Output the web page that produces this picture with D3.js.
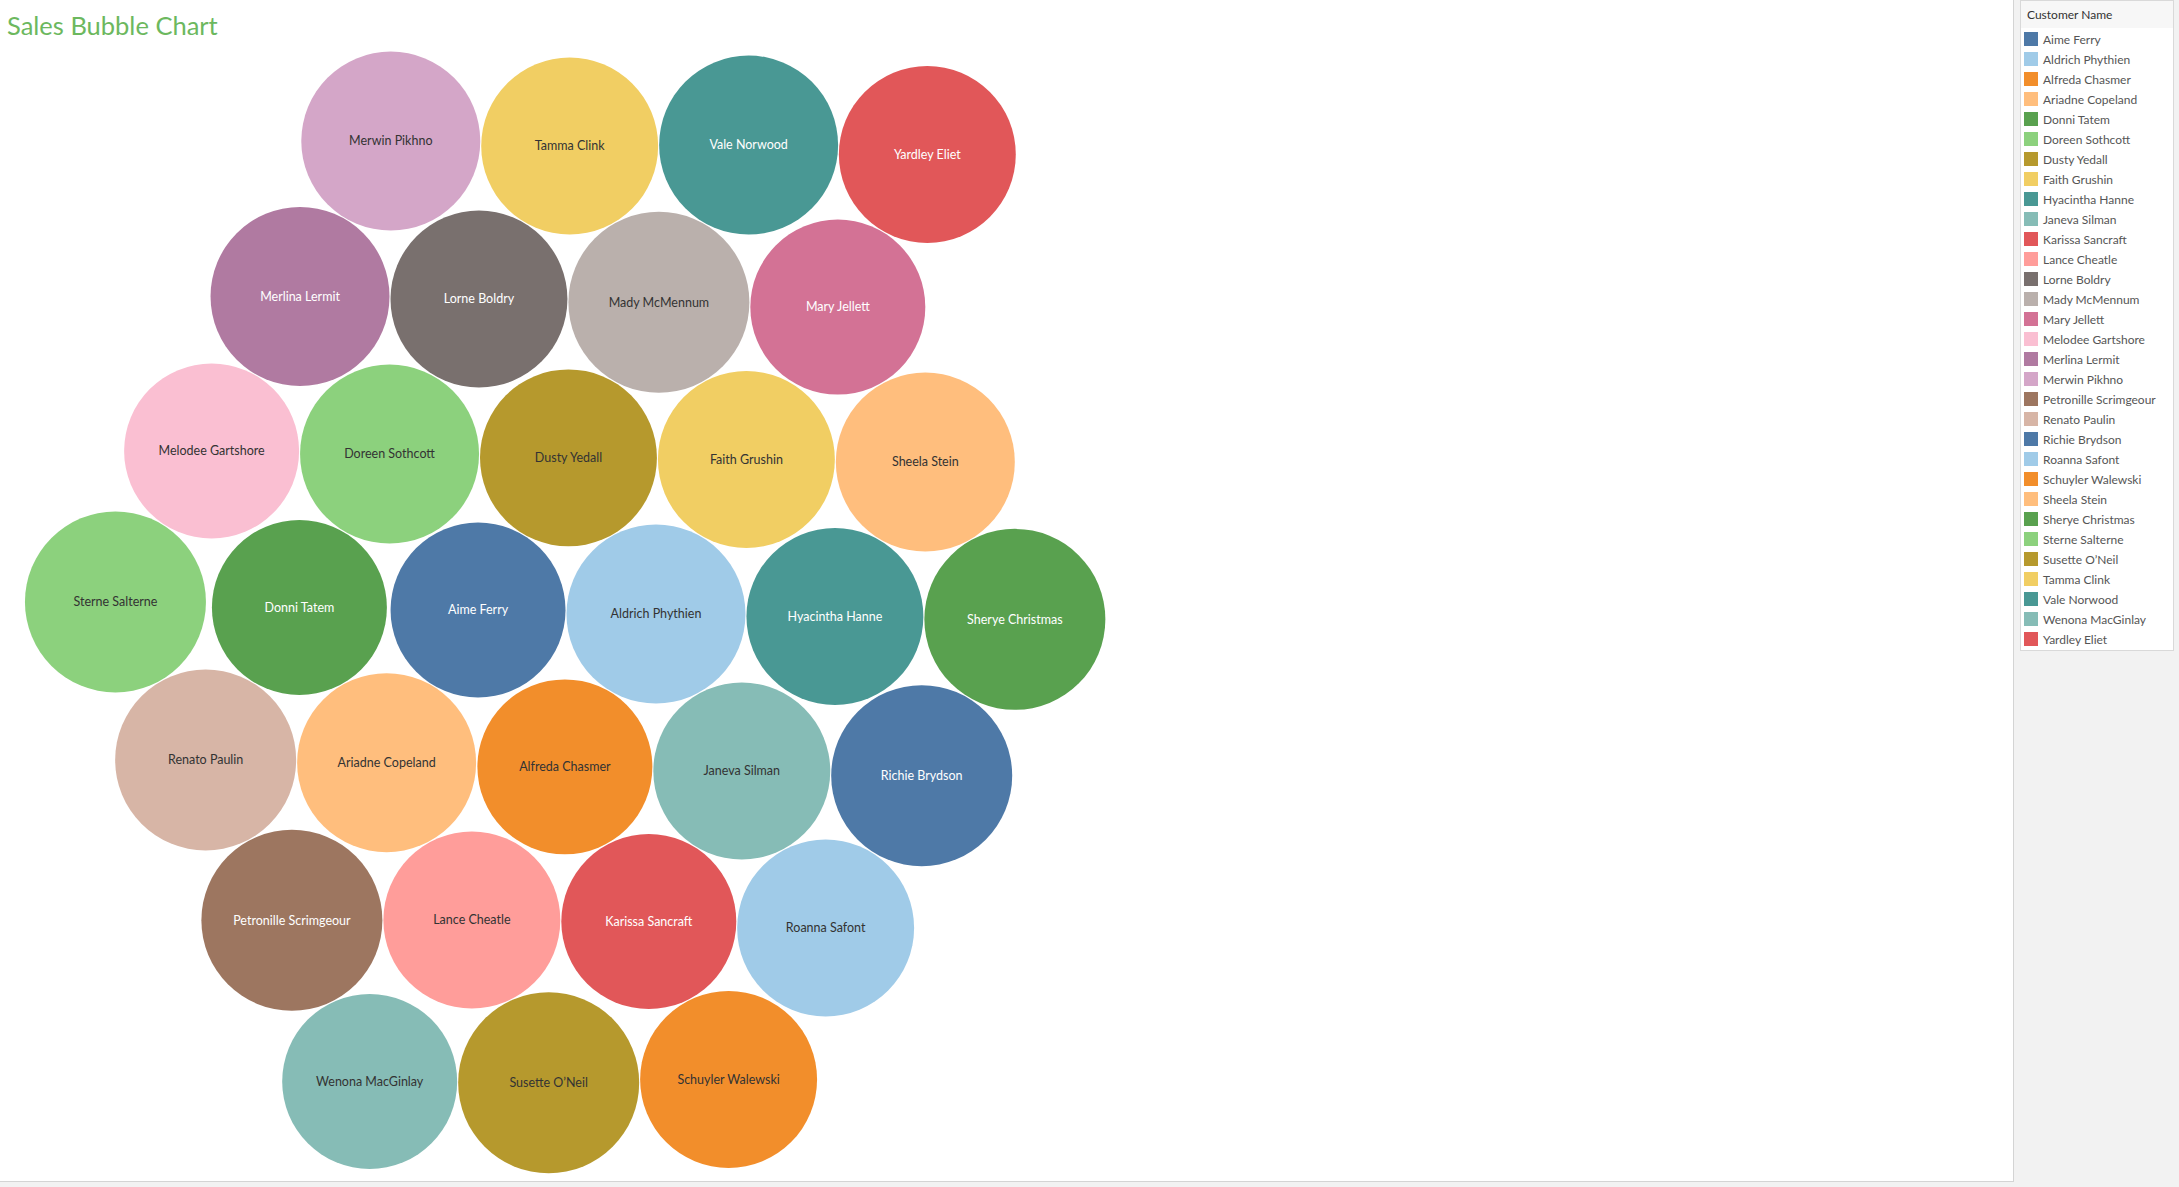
<!DOCTYPE html>
<html>
<head>
<meta charset="utf-8">
<script src="https://cdn.jsdelivr.net/npm/d3@7"></script>
<style>
  html, body { margin: 0; padding: 0; background: #fff; }
  svg { display: block; }
</style>
</head>
<body>
<svg id="chart" width="2179" height="1187"></svg>
<script>
// ---------- DATA ----------
const customers = [
  "Aime Ferry","Aldrich Phythien","Alfreda Chasmer","Ariadne Copeland","Donni Tatem",
  "Doreen Sothcott","Dusty Yedall","Faith Grushin","Hyacintha Hanne","Janeva Silman",
  "Karissa Sancraft","Lance Cheatle","Lorne Boldry","Mady McMennum","Mary Jellett",
  "Melodee Gartshore","Merlina Lermit","Merwin Pikhno","Petronille Scrimgeour","Renato Paulin",
  "Richie Brydson","Roanna Safont","Schuyler Walewski","Sheela Stein","Sherye Christmas",
  "Sterne Salterne","Susette O\u2019Neil","Tamma Clink","Vale Norwood","Wenona MacGinlay",
  "Yardley Eliet"
];
// estimated sales (relative)
const sales = [
  7570, 7920, 7570, 7920, 7570,
  7920, 7740, 7740, 7740, 7740,
  7570, 7740, 7740, 8100, 7570,
  7570, 7920, 7920, 8100, 8100,
  8100, 7740, 7740, 7920, 8100,
  8100, 8100, 7740, 7920, 7570,
  7740
];
// packing order of the bubbles, row by row (top to bottom)
const packRows = [
  ["Merwin Pikhno","Tamma Clink","Vale Norwood","Yardley Eliet"],
  ["Merlina Lermit","Lorne Boldry","Mady McMennum","Mary Jellett"],
  ["Melodee Gartshore","Doreen Sothcott","Dusty Yedall","Faith Grushin","Sheela Stein"],
  ["Sterne Salterne","Donni Tatem","Aime Ferry","Aldrich Phythien","Hyacintha Hanne","Sherye Christmas"],
  ["Renato Paulin","Ariadne Copeland","Alfreda Chasmer","Janeva Silman","Richie Brydson"],
  ["Petronille Scrimgeour","Lance Cheatle","Karissa Sancraft","Roanna Safont"],
  ["Wenona MacGinlay","Susette O\u2019Neil","Schuyler Walewski"]
];
const rowStartSlot = [3, 2, 1, 0, 1, 2, 3];
const palette = [
  "#4e79a7","#a0cbe8","#f28e2b","#ffbe7d","#59a14f","#8cd17d","#b6992d","#f1ce63",
  "#499894","#86bcb6","#e15759","#ff9d9a","#79706e","#bab0ac","#d37295","#fabfd2",
  "#b07aa1","#d4a6c8","#9d7660","#d7b5a6"
];
const titleText = "Sales Bubble Chart";
const legendTitle = "Customer Name";

// ---------- SETUP ----------
const W = 2179, H = 1187;
const svg = d3.select("#chart");

// panels
svg.append("rect").attr("x", 0).attr("y", 0).attr("width", W).attr("height", H).attr("fill", "#f2f2f2");
svg.append("rect").attr("x", 0).attr("y", 0).attr("width", 2013).attr("height", 1181).attr("fill", "#ffffff");
svg.append("line").attr("x1", 2013.5).attr("x2", 2013.5).attr("y1", 0).attr("y2", 1182)
  .attr("stroke", "#d4d4d4").attr("stroke-width", 1);
svg.append("line").attr("x1", 0).attr("x2", 2014).attr("y1", 1181.5).attr("y2", 1181.5)
  .attr("stroke", "#d4d4d4").attr("stroke-width", 1);

// title
svg.append("text").attr("x", 7).attr("y", 35)
  .attr("font-family", "Lato, 'Open Sans', sans-serif").attr("font-size", 25.5)
  .attr("fill", "#6cb85e").text(titleText);

const color = d3.scaleOrdinal().domain(customers).range(palette);
const rScale = d3.scaleSqrt().domain([0, d3.max(sales)]).range([0, 90.5]);
const xSlot = d3.scaleLinear().domain([0, 10]).range([126, 1011]);
const yRow = d3.scaleLinear().domain([0, 6]).range([149, 1075]);

const salesBy = new Map(customers.map((c, i) => [c, sales[i]]));
const nodes = [];
packRows.forEach((row, ri) => {
  row.forEach((name, k) => {
    const slot = rowStartSlot[ri] + 2 * k;
    // slight shear of the lower rows, as in the packed layout
    const shear = ri > 3 ? -(ri - 3) * (ri - 3) * 2.5 : 0;
    const tx = xSlot(slot) + shear, ty = yRow(ri) + (slot - 5) * 1.5;
    nodes.push({ name, value: salesBy.get(name), r: rScale(salesBy.get(name)), tx, ty, x: tx, y: ty });
  });
});

const sim = d3.forceSimulation(nodes)
  .force("x", d3.forceX(d => d.tx).strength(0.3))
  .force("y", d3.forceY(d => d.ty).strength(0.3))
  .force("collide", d3.forceCollide(d => d.r + 0.5).iterations(3))
  .stop();
for (let i = 0; i < 300; i++) sim.tick();

function textColor(c) {
  const rgb = d3.rgb(c);
  const yiq = 0.299 * rgb.r + 0.587 * rgb.g + 0.114 * rgb.b;
  return yiq < 148 ? "#ffffff" : "#333333";
}

const g = svg.append("g");
const bub = g.selectAll("g.bubble").data(nodes).join("g").attr("class", "bubble")
  .attr("transform", d => `translate(${d.x},${d.y})`);
bub.append("circle").attr("r", d => d.r).attr("fill", d => color(d.name));
bub.append("text").attr("text-anchor", "middle").attr("dy", "0.35em")
  .attr("font-family", "Lato, 'Open Sans', sans-serif").attr("font-size", 12.5)
  .attr("fill", d => textColor(color(d.name))).text(d => d.name);

// ---------- LEGEND ----------
const lg = svg.append("g");
lg.append("rect").attr("x", 2020.5).attr("y", 0.5).attr("width", 153).attr("height", 650)
  .attr("fill", "#ffffff").attr("stroke", "#d9d9d9");
lg.append("rect").attr("x", 2021).attr("y", 1).attr("width", 152).attr("height", 27).attr("fill", "#f7f7f7");
lg.append("text").attr("x", 2027).attr("y", 19)
  .attr("font-family", "Lato, 'Open Sans', sans-serif").attr("font-size", 12)
  .attr("fill", "#333").text(legendTitle);
const ly = d3.scaleBand().domain(customers).range([30, 650]);
const items = lg.selectAll("g.item").data(customers).join("g").attr("class", "item")
  .attr("transform", d => `translate(2024,${ly(d)})`);
items.append("rect").attr("x", 0).attr("y", 2).attr("width", 14).attr("height", 14).attr("fill", d => color(d));
items.append("text").attr("x", 19).attr("y", 14)
  .attr("font-family", "Lato, 'Open Sans', sans-serif").attr("font-size", 12)
  .attr("fill", "#555").text(d => d);
</script>
</body>
</html>
